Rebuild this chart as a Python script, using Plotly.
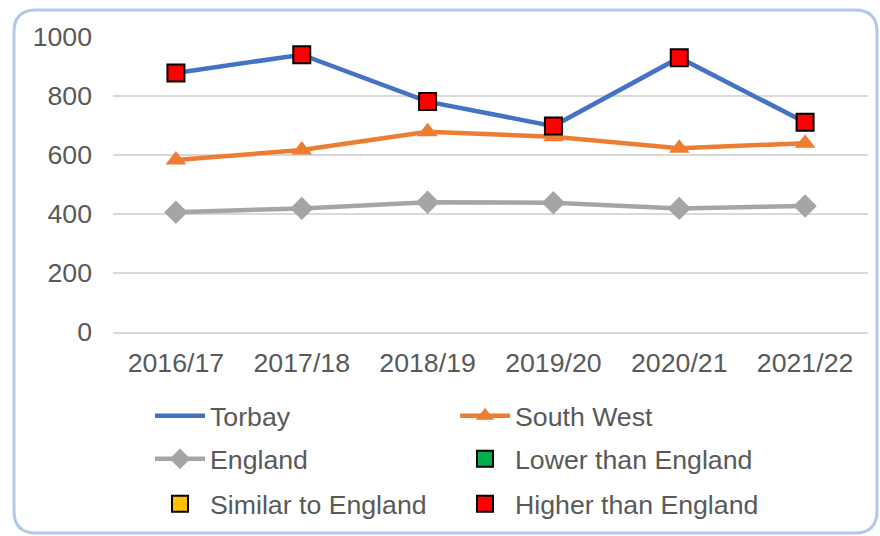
import plotly.graph_objects as go

years = ["2016/17", "2017/18", "2018/19", "2019/20", "2020/21", "2021/22"]
torbay = [878, 940, 781, 698, 930, 711]
south_west = [583, 617, 679, 662, 623, 640]
england = [406, 419, 440, 438, 419, 427]
y_ticks = [0, 200, 400, 600, 800, 1000]

W, H = 880, 536
L, R, T, B = 113, 12, 37, 204

FONT = "Liberation Sans, Arial, sans-serif"
TXT = "#595959"
FS = 26.7

fig = go.Figure()
fig.add_trace(go.Scatter(x=years, y=torbay, name="Torbay", mode="lines",
                         line=dict(color="#4472C4", width=4.5), legend="legend"))
fig.add_trace(go.Scatter(x=years, y=south_west, name="South West", mode="lines+markers",
                         line=dict(color="#ED7D31", width=4.5),
                         marker=dict(symbol="triangle-up", size=18, color="#ED7D31"),
                         legend="legend"))
fig.add_trace(go.Scatter(x=years, y=england, name="England", mode="lines+markers",
                         line=dict(color="#A5A5A5", width=4.5),
                         marker=dict(symbol="diamond", size=18, color="#A5A5A5"),
                         legend="legend2"))
fig.add_trace(go.Scatter(x=[None], y=[None], name="Lower than England", mode="markers",
                         marker=dict(symbol="square", size=16, color="#00B050",
                                     line=dict(color="black", width=2)),
                         legend="legend2"))
fig.add_trace(go.Scatter(x=[None], y=[None], name="Similar to England", mode="markers",
                         marker=dict(symbol="square", size=16, color="#FFC000",
                                     line=dict(color="black", width=2)),
                         legend="legend3"))
fig.add_trace(go.Scatter(x=years, y=torbay, name="Higher than England", mode="markers",
                         marker=dict(symbol="square", size=17, color="#FF0000",
                                     line=dict(color="black", width=2)),
                         legend="legend3"))

# rounded border in paper coordinates
pw, ph = W - L - R, H - T - B
def px(x):
    return (x - L) / pw
def py(y):
    return (H - B - y) / ph
x0, x1, y0, y1, r = 14, 877, 10, 533, 22
path = (f"M{px(x0 + r)},{py(y0)} L{px(x1 - r)},{py(y0)} "
        f"Q{px(x1)},{py(y0)} {px(x1)},{py(y0 + r)} "
        f"L{px(x1)},{py(y1 - r)} Q{px(x1)},{py(y1)} {px(x1 - r)},{py(y1)} "
        f"L{px(x0 + r)},{py(y1)} Q{px(x0)},{py(y1)} {px(x0)},{py(y1 - r)} "
        f"L{px(x0)},{py(y0 + r)} Q{px(x0)},{py(y0)} {px(x0 + r)},{py(y0)} Z")
fig.add_shape(type="path", path=path, xref="paper", yref="paper",
              line=dict(color="#B4C7E7", width=3), layer="below")

def leg(top):
    return dict(orientation="h", xref="container", yref="container",
                x=150 / W, y=1 - top / H, xanchor="left", yanchor="top",
                entrywidth=240, entrywidthmode="pixels", itemwidth=50,
                font=dict(size=FS, color=TXT, family=FONT), traceorder="normal",
                itemsizing="trace", bgcolor="rgba(0,0,0,0)")

fig.update_layout(
    width=W, height=H,
    margin=dict(l=L, r=R, t=T, b=B),
    paper_bgcolor="white", plot_bgcolor="white",
    font=dict(family=FONT, size=FS, color=TXT),
    xaxis=dict(range=[-0.5, 5.5], showgrid=False, showline=True, linecolor="#D9D9D9",
               linewidth=1.5, ticks="", tickfont=dict(size=FS, color=TXT),
               ticklabelstandoff=6),
    yaxis=dict(range=[0, 1000], tickvals=y_ticks, showgrid=True, gridcolor="#D9D9D9",
               gridwidth=1.5, zeroline=False, ticks="", ticklabelstandoff=20,
               tickfont=dict(size=FS, color=TXT)),
    legend=leg(392),
    legend2=leg(435),
    legend3=leg(480),
    showlegend=True,
)

fig.write_html("out.html", config={"displayModeBar": False},
               post_script="document.body.style.margin='0';")
